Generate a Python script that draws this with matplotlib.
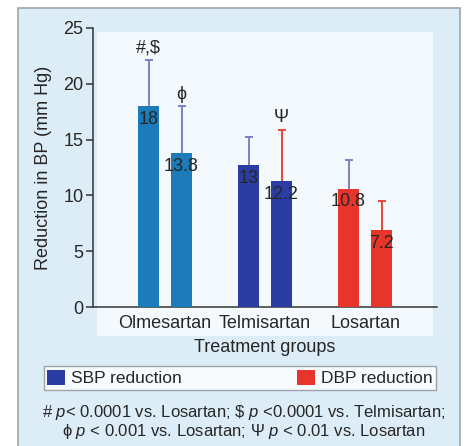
import matplotlib

matplotlib.use("Agg")

import matplotlib.pyplot as plt
from matplotlib.patches import Patch, Rectangle

plt.rcParams["font.family"] = ["Liberation Sans", "DejaVu Sans"]
plt.rcParams["mathtext.fontset"] = "custom"
plt.rcParams["mathtext.rm"] = "Liberation Sans"
plt.rcParams["mathtext.it"] = "Liberation Sans:italic"

groups = ["Olmesartan", "Telmisartan", "Losartan"]
sbp = [18.0, 12.7, 10.6]
dbp = [13.8, 11.3, 6.9]
sbp_err = [4.1, 2.55, 2.6]
dbp_err = [4.2, 4.6, 2.6]
sbp_labels = ["18", "13", "10.8"]
dbp_labels = ["13.8", "12.2", "7.2"]
sbp_marks = ["#,$", "", ""]
dbp_marks = ["\u03d5", "\u03a8", ""]
bar_colors = ["#1c7bb8", "#2b3da3", "#e8352b"]
sbp_ecolors = ["#7d80c6", "#7d80c6", "#7d80c6"]
dbp_ecolors = ["#7d80c6", "#e8463a", "#e8463a"]

TEXT = "#262626"


def main() -> None:
    fig = plt.figure(figsize=(4.65, 4.46), dpi=100)
    fig.patch.set_facecolor("white")
    W, H = 465, 446
    # light blue panel with frame, whiter area behind the plot
    fig.patches.append(Rectangle((18 / W, -0.01), 442 / W, 1 - 8 / H + 0.01,
                                 transform=fig.transFigure, facecolor="#dcedf8",
                                 edgecolor="#9ea6ad", linewidth=1.2, zorder=-10))
    fig.patches.append(Rectangle((97 / W, 1 - 336 / H), 336 / W, 304 / H,
                                 transform=fig.transFigure, facecolor="#f4f9fd",
                                 edgecolor="none", zorder=-9))

    ax = fig.add_axes([93 / W, 1 - 307 / H, 344 / W, 279 / H])
    ax.set_facecolor("none")

    x = list(range(len(groups)))
    off, width = 0.165, 0.21
    xs = [v - off for v in x]
    xd = [v + off for v in x]
    ax.bar(xs, sbp, width, color=bar_colors, zorder=3)
    ax.bar(xd, dbp, width, color=bar_colors, zorder=3)

    # upper error bars only
    for xi, h, e, c in zip(xs + xd, sbp + dbp, sbp_err + dbp_err, sbp_ecolors + dbp_ecolors):
        _, caps, _ = ax.errorbar([xi], [h], yerr=[[0], [e]], fmt="none", ecolor=c,
                                 elinewidth=1.4, capsize=3, capthick=1.4, zorder=2)
        caps[0].remove()

    for xi, h, lab in zip(xs + xd, sbp + dbp, sbp_labels + dbp_labels):
        ax.annotate(lab, (xi, h), xytext=(0, -9.5), textcoords="offset points",
                    ha="center", va="center", fontsize=13, color=TEXT, zorder=5)

    for xi, h, e, m in zip(xs + xd, sbp + dbp, sbp_err + dbp_err, sbp_marks + dbp_marks):
        if m:
            ax.annotate(m, (xi, h + e), xytext=(0, 2.5), textcoords="offset points",
                        ha="center", va="bottom", fontsize=13, color=TEXT,
                        parse_math=False)

    ax.set_xlim(-0.72, 2.72)
    ax.set_ylim(0, 25)
    ax.set_yticks([0, 5, 10, 15, 20, 25])
    ax.set_xticks(x)
    ax.set_xticklabels(groups)
    for s in ("top", "right"):
        ax.spines[s].set_visible(False)
    for s in ("left", "bottom"):
        ax.spines[s].set_color("#333333")
        ax.spines[s].set_linewidth(1.1)
    ax.tick_params(axis="y", length=5, width=1.1, color="#333333", pad=2,
                   labelsize=13, labelcolor=TEXT)
    ax.tick_params(axis="x", length=0, pad=6, labelsize=13, labelcolor=TEXT)
    ax.set_ylabel("Reduction in BP (mm Hg)", fontsize=13, color=TEXT, labelpad=8)
    ax.set_xlabel("Treatment groups", fontsize=13, color=TEXT, labelpad=5)

    handles = [Patch(facecolor="#2b3da3", edgecolor="none", label="SBP reduction"),
               Patch(facecolor="#e8352b", edgecolor="none", label="DBP reduction")]
    leg = fig.legend(handles=handles, ncol=2, mode="expand",
                     bbox_to_anchor=(44 / W, 1 - 391 / H, 392 / W, 26 / H),
                     loc="center", fontsize=12.5, frameon=True, fancybox=False,
                     handlelength=1.0, handleheight=1.0, handletextpad=0.35,
                     borderpad=0.2, borderaxespad=0)
    leg.get_frame().set_edgecolor("#8a8f94")
    leg.get_frame().set_linewidth(1.0)
    leg.get_frame().set_facecolor("white")
    for t in leg.get_texts():
        t.set_color(TEXT)

    note = ("# $\\mathit{p}$< 0.0001 vs. Losartan; \\$ $\\mathit{p}$ <0.0001 vs. Telmisartan;\n"
            "\u03d5 $\\mathit{p}$ < 0.001 vs. Losartan; \u03a8 $\\mathit{p}$ < 0.01 vs. Losartan")
    fig.text(244 / W, 1 - 422 / H, note, ha="center", va="center", multialignment="center",
             fontsize=12, linespacing=1.0, color=TEXT)

    fig.savefig("out.png", dpi=100)
    plt.close(fig)


if __name__ == "__main__":
    main()
